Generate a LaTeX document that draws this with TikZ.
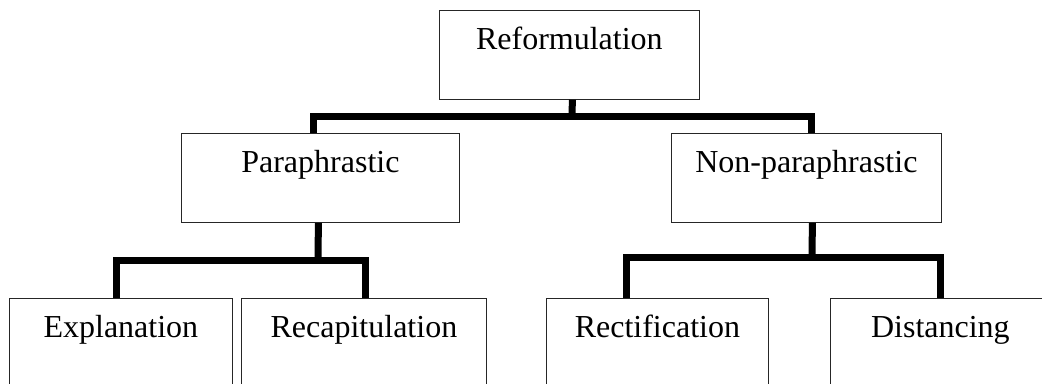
\documentclass[tikz,border=0pt]{standalone}
\usepackage{fontspec}
\setmainfont{Liberation Serif}
\usepackage{tikz}

\tikzset{
  catbox/.style={draw=black!85, line width=0.6pt, inner sep=0pt, anchor=north west,
    text height=29.25pt, text depth=37.5pt, font=\fontsize{24}{29}\selectfont},
  lowbox/.style={catbox, text depth=60.75pt},
  link/.style={draw=black, line width=5.25pt, line join=miter}
}

\begin{document}
\begin{tikzpicture}[x=0.75pt,y=0.75pt,yscale=-1,xscale=1]

\path[use as bounding box] (0,0) rectangle (1042,383);
\clip (0,0) rectangle (1042,383);

\node[catbox, minimum width=195pt] (reform) at (439,10) {Reformulation};

\node[catbox, minimum width=208.5pt] (para) at (181,133) {Paraphrastic};

\node[catbox, minimum width=202.5pt] (nonpara) at (671,133) {Non-paraphrastic};

\node[lowbox, minimum width=167.25pt] (expl) at (9,298) {Explanation};

\node[lowbox, minimum width=183.75pt] (recap) at (241,298) {Recapitulation};

\node[lowbox, minimum width=166.5pt] (rect) at (546,298) {Rectification};

\node[lowbox, minimum width=165pt] (dist) at (830,298) {Distancing};


\coordinate (j0) at (572,116);
\draw[link] ([xshift=2.25pt]reform.south) -- (j0);
\draw[link] ([xshift=-5.25pt]para.north) |- (j0) -| ([xshift=3.75pt]nonpara.north);

\coordinate (j1) at (318,260);
\draw[link] ([xshift=-1.5pt]para.south) -- (j1);
\draw[link] ([xshift=-3.375pt]expl.north) |- (j1) -| ([xshift=1.125pt]recap.north);

\coordinate (j2) at (812,257);
\draw[link] ([xshift=4.5pt]nonpara.south) -- (j2);
\draw[link] ([xshift=-23.25pt]rect.north) |- (j2) -| (dist.north);

\end{tikzpicture}
\end{document}
